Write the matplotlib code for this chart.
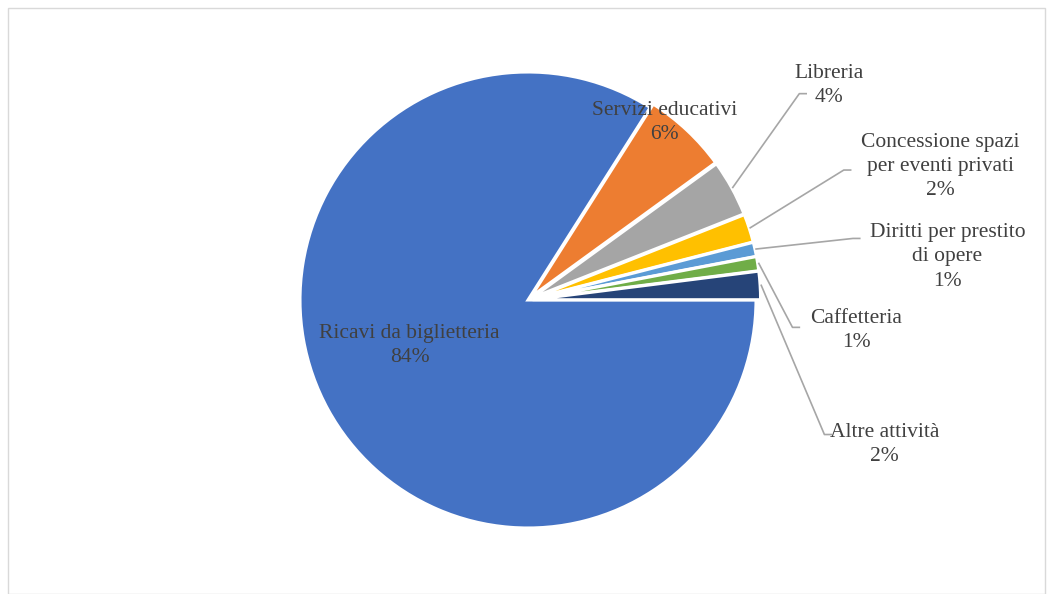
import matplotlib
matplotlib.use("Agg")
import numpy as np
import matplotlib.pyplot as plt
from matplotlib.patches import Rectangle

# Data
categories = ["Ricavi da biglietteria", "Servizi educativi", "Libreria",
              "Concessione spazi\nper eventi privati",
              "Diritti per prestito\ndi opere", "Caffetteria", "Altre attività"]
shares = [84, 6, 4, 2, 1, 1, 2]
colors = ["#4472C4", "#ED7D31", "#A5A5A5", "#FFC000",
          "#5B9BD5", "#70AD47", "#264478"]

# Layout (pie-radius units): label centre, elbow of leader line (None = no line)
label_pos = [(-0.52, -0.20), (0.60, 0.78), (1.32, 0.94), (1.81, 0.585),
             (1.84, 0.19), (1.44, -0.135), (1.565, -0.635)]
elbow_pos = [None, None, (1.19, 0.905), (1.385, 0.57),
             (1.425, 0.27), (1.16, -0.12), (1.30, -0.59)]
explode = [0, 0.02, 0.02, 0.02, 0.02, 0.02, 0.02]

W, H = 1052, 594
fig = plt.figure(figsize=(W / 100, H / 100), dpi=100)
fig.patches.append(Rectangle((8 / W, 0), (1045 - 8) / W, (H - 8) / H,
                             transform=fig.transFigure, fill=False,
                             edgecolor="#d9d9d9", linewidth=1))

cx, cy, R = 528, 300, 228
ax = fig.add_axes([(cx - R) / W, (H - cy - R) / H, 2 * R / W, 2 * R / H])

wedges, _ = ax.pie(shares, colors=colors, startangle=0, counterclock=False,
                   explode=explode, radius=1,
                   wedgeprops=dict(edgecolor="white", linewidth=2.2))
ax.set_xlim(-1, 1); ax.set_ylim(-1, 1)
ax.set_aspect("equal"); ax.axis("off")

font = dict(family="Liberation Serif", size=15.5, color="#404040")
tot = sum(shares)
for i, w in enumerate(wedges):
    pct = 100 * shares[i] / tot
    lx, ly = label_pos[i]
    ax.text(lx, ly, f"{categories[i]}\n{pct:.0f}%", ha="center", va="center",
            linespacing=1.38, clip_on=False, **font)
    if elbow_pos[i] is not None:
        mid = np.deg2rad((w.theta1 + w.theta2) / 2)
        r0 = 1.0 + explode[i] + 0.005
        ex, ey = elbow_pos[i]
        ax.plot([r0 * np.cos(mid), ex, ex + 0.03], [r0 * np.sin(mid), ey, ey],
                color="#a6a6a6", linewidth=1.2, clip_on=False)

fig.savefig("out.png", dpi=100)
